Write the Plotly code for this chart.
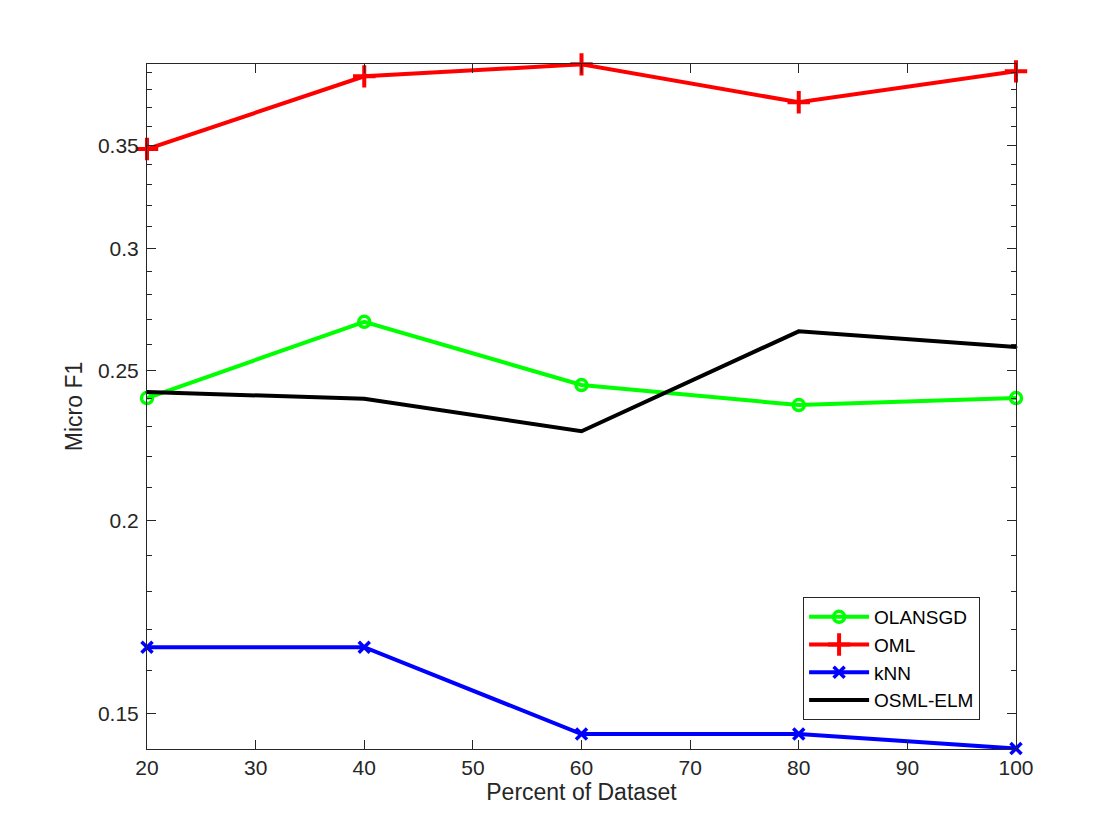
import math
import plotly.graph_objects as go

# percent of dataset used
percent = [20, 40, 60, 80, 100]

olansgd = [0.2401, 0.2690, 0.2448, 0.2376, 0.2401]
oml = [0.3480, 0.3878, 0.3948, 0.3731, 0.3907]
knn = [0.1656, 0.1656, 0.1455, 0.1455, 0.1424]
osml_elm = [0.2423, 0.2398, 0.2285, 0.2652, 0.2591]

y_ticks = [0.15, 0.2, 0.25, 0.3, 0.35]
y_minor = [0.16, 0.17, 0.18, 0.19, 0.21, 0.22, 0.23, 0.24, 0.26, 0.27,
           0.28, 0.29, 0.31, 0.32, 0.33, 0.34, 0.36, 0.37, 0.38, 0.39]
x_ticks = [20, 30, 40, 50, 60, 70, 80, 90, 100]

axis_col = "#262626"
font = "Liberation Sans, Arial, sans-serif"

fig = go.Figure()
fig.add_trace(go.Scatter(x=percent, y=olansgd, name="OLANSGD", mode="lines+markers",
                         line=dict(color="#00ff00", width=4), cliponaxis=False,
                         marker=dict(symbol="circle-open", size=11, line=dict(width=3.5, color="#00ff00"))))
fig.add_trace(go.Scatter(x=percent, y=oml, name="OML", mode="lines+markers",
                         line=dict(color="#ff0000", width=4), cliponaxis=False,
                         marker=dict(symbol="cross-thin-open", size=16, line=dict(width=4, color="#ff0000"))))
fig.add_trace(go.Scatter(x=percent, y=knn, name="kNN", mode="lines+markers",
                         line=dict(color="#0000ff", width=4), cliponaxis=False,
                         marker=dict(symbol="x-thin-open", size=11, line=dict(width=3.5, color="#0000ff"))))
fig.add_trace(go.Scatter(x=percent, y=osml_elm, name="OSML-ELM", mode="lines+markers",
                         line=dict(color="#000000", width=4), cliponaxis=False,
                         marker=dict(symbol="circle", size=3, color="#000000")))

fig.update_layout(
    width=1120, height=840,
    paper_bgcolor="white", plot_bgcolor="white",
    margin=dict(l=139, r=112, t=56, b=99),
    font=dict(family=font, size=21, color=axis_col),
    showlegend=True,
    legend=dict(x=0.755, y=0.222, xanchor="left", yanchor="top",
                bgcolor="white", bordercolor=axis_col, borderwidth=1,
                font=dict(size=19, color="#000000"), tracegroupgap=0,
                itemwidth=60),
)

fig.update_xaxes(
    range=[20, 100], tickvals=x_ticks, ticks="inside", ticklen=9,
    tickcolor=axis_col, showline=True, linecolor=axis_col, linewidth=1,
    mirror="allticks", showgrid=False, zeroline=False,
    tickfont=dict(size=21),
    title=dict(text="Percent of Dataset", font=dict(size=23), standoff=4),
)
fig.update_yaxes(
    type="log", range=[math.log10(0.1423), math.log10(0.3950)],
    tickvals=y_ticks, ticktext=[str(v) for v in y_ticks],
    ticks="inside", ticklen=9, tickcolor=axis_col, ticklabelstandoff=3,
    minor=dict(tickvals=y_minor, ticks="inside", ticklen=5, tickcolor=axis_col, showgrid=False),
    showline=True, linecolor=axis_col, linewidth=1, mirror="allticks",
    showgrid=False, zeroline=False,
    tickfont=dict(size=21),
    title=dict(text="Micro F1", font=dict(size=23), standoff=8),
)

fig.write_html("out.html")
